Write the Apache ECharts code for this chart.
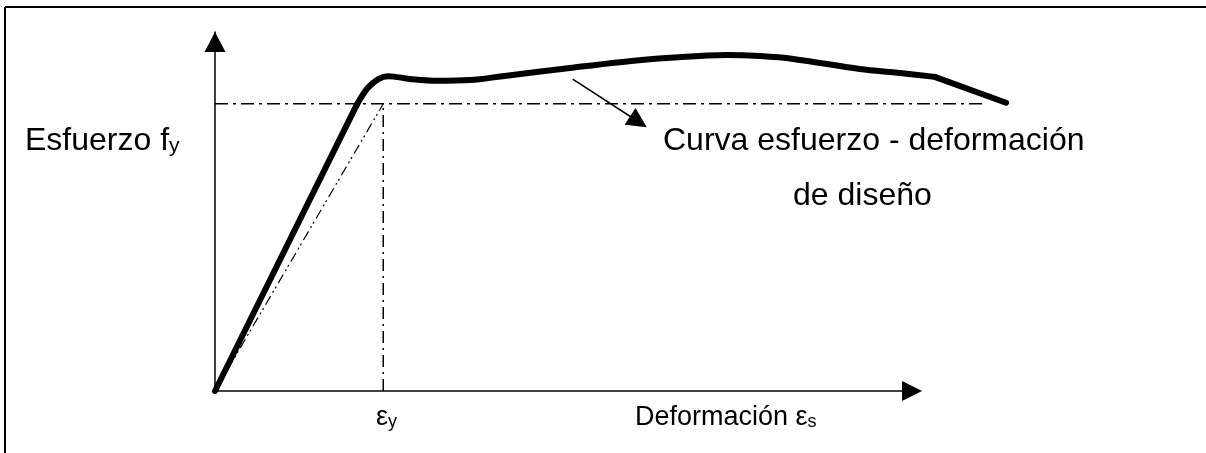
<!DOCTYPE html>
<html>
<head>
<meta charset="utf-8">
<script src="https://cdn.jsdelivr.net/npm/echarts@6/dist/echarts.min.js"></script>
<style>
  html, body { margin: 0; padding: 0; background: #fff; }
  #chart { width: 1206px; height: 453px; }
</style>
</head>
<body>
<div id="chart"></div>
<script>
// axis range (arbitrary units, origin at 0,0)
var xMax = 115;       // room for the curve past the arrow
var xArrow = 100;     // where the strain axis arrow ends
var yMax = 100;
var fy = 80;          // yield stress level
var epsY = 23.8;      // yield strain

// elastic branch
var elasticX = [0, 20.1];
var elasticY = [0, 79.9];
// hardening / design curve
var curveX = [20.1, 21.6, 23.1, 24.5, 27.6, 31.4, 36.1, 40.7, 50.2, 57.3, 64.4, 72.4, 77.1, 81.8, 91.2, 96.9, 101.8];
var curveY = [79.9, 84.4, 86.9, 87.7, 86.9, 86.4, 86.6, 87.7, 90.0, 91.6, 92.8, 93.6, 93.3, 92.5, 89.7, 88.6, 87.5];
// final falling branch
var tailX = [101.8, 111.9];
var tailY = [87.5, 80.3];
// end of yield reference line
var yieldLineEnd = 108.6;
// pointer arrow
var pointerX = [50.6, 59.9];
var pointerY = [86.9, 75.0];

function pairs(xs, ys) {
  return xs.map(function (x, i) { return [x, ys[i]]; });
}

var font = '"Liberation Sans", Arial, sans-serif';
var thick = { color: '#000', width: 6, cap: 'round', join: 'round' };

var chart = echarts.init(document.getElementById('chart'), null, { renderer: 'canvas' });

chart.setOption({
  animation: false,
  backgroundColor: '#fff',
  grid: { left: 215, right: 178, top: 32, bottom: 62 },
  xAxis: {
    type: 'value', min: 0, max: xMax,
    splitLine: { show: false }, axisTick: { show: false }, axisLabel: { show: false },
    axisLine: { show: false }
  },
  yAxis: {
    type: 'value', min: 0, max: yMax,
    splitLine: { show: false }, axisTick: { show: false }, axisLabel: { show: false },
    axisLine: {
      show: true, onZero: false,
      lineStyle: { color: '#000', width: 1.5 },
      symbol: ['none', 'triangle'], symbolSize: [21, 20], symbolOffset: [0, -10]
    }
  },
  series: [
    {
      // strain axis with arrow head
      type: 'lines', coordinateSystem: 'cartesian2d', silent: true, clip: false,
      symbol: ['none', 'triangle'], symbolSize: 20,
      lineStyle: { color: '#000', width: 1.5, opacity: 1 },
      data: [{ coords: [[0, 0], [xArrow - 1.4, 0]] }]
    },
    {
      type: 'line', clip: false, showSymbol: false, silent: true,
      data: [[0, fy], [yieldLineEnd, fy]],
      lineStyle: { color: '#000', width: 1.5, type: [13, 5, 3, 5] }
    },
    {
      type: 'line', clip: false, showSymbol: false, silent: true,
      data: [[epsY, 0], [epsY, fy]],
      lineStyle: { color: '#000', width: 1.5, type: [12, 5, 2, 5] }
    },
    {
      type: 'line', clip: false, showSymbol: false, silent: true,
      data: [[0, 0], [epsY, fy]],
      lineStyle: { color: '#000', width: 1.2, type: [10, 4, 2, 3, 2, 4] }
    },
    {
      type: 'line', clip: false, showSymbol: false, silent: true,
      data: pairs(elasticX, elasticY), lineStyle: thick
    },
    {
      type: 'line', clip: false, showSymbol: false, silent: true, smooth: 0.35,
      data: pairs(curveX, curveY), lineStyle: thick
    },
    {
      type: 'line', clip: false, showSymbol: false, silent: true,
      data: pairs(tailX, tailY), lineStyle: thick
    },
    {
      type: 'lines', coordinateSystem: 'cartesian2d', silent: true, clip: false,
      symbol: ['none', 'triangle'], symbolSize: 20,
      lineStyle: { color: '#000', width: 1.5, opacity: 1 },
      data: [{ coords: pairs(pointerX, pointerY) }]
    }
  ],
  graphic: [
    { type: 'line', shape: { x1: 5, y1: 7, x2: 5, y2: 453 }, style: { stroke: '#000', lineWidth: 2 } },
    { type: 'line', shape: { x1: 5, y1: 7, x2: 1206, y2: 7 }, style: { stroke: '#000', lineWidth: 2 } },
    {
      type: 'text', x: 25, y: 157,
      style: {
        text: '{m|Esfuerzo f}{s|y}', verticalAlign: 'bottom', fill: '#000',
        rich: {
          m: { fontFamily: font, fontSize: 32, lineHeight: 32, verticalAlign: 'bottom' },
          s: { fontFamily: font, fontSize: 21, lineHeight: 19, verticalAlign: 'bottom' }
        }
      }
    },
    {
      type: 'text', x: 663, y: 157,
      style: { text: 'Curva esfuerzo - deformación', font: '32px ' + font, lineHeight: 32, verticalAlign: 'bottom', fill: '#000' }
    },
    {
      type: 'text', x: 793, y: 212,
      style: { text: 'de diseño', font: '32px ' + font, lineHeight: 32, verticalAlign: 'bottom', fill: '#000' }
    },
    {
      type: 'text', x: 376, y: 431,
      style: {
        text: '{m|ε}{s|y}', verticalAlign: 'bottom', fill: '#000',
        rich: {
          m: { fontFamily: font, fontSize: 27, lineHeight: 27, verticalAlign: 'bottom' },
          s: { fontFamily: font, fontSize: 18, lineHeight: 16, verticalAlign: 'bottom' }
        }
      }
    },
    {
      type: 'text', x: 635, y: 431,
      style: {
        text: '{m|Deformación ε}{s|s}', verticalAlign: 'bottom', fill: '#000',
        rich: {
          m: { fontFamily: font, fontSize: 27, lineHeight: 27, verticalAlign: 'bottom' },
          s: { fontFamily: font, fontSize: 18, lineHeight: 16, verticalAlign: 'bottom' }
        }
      }
    }
  ]
});
</script>
</body>
</html>
